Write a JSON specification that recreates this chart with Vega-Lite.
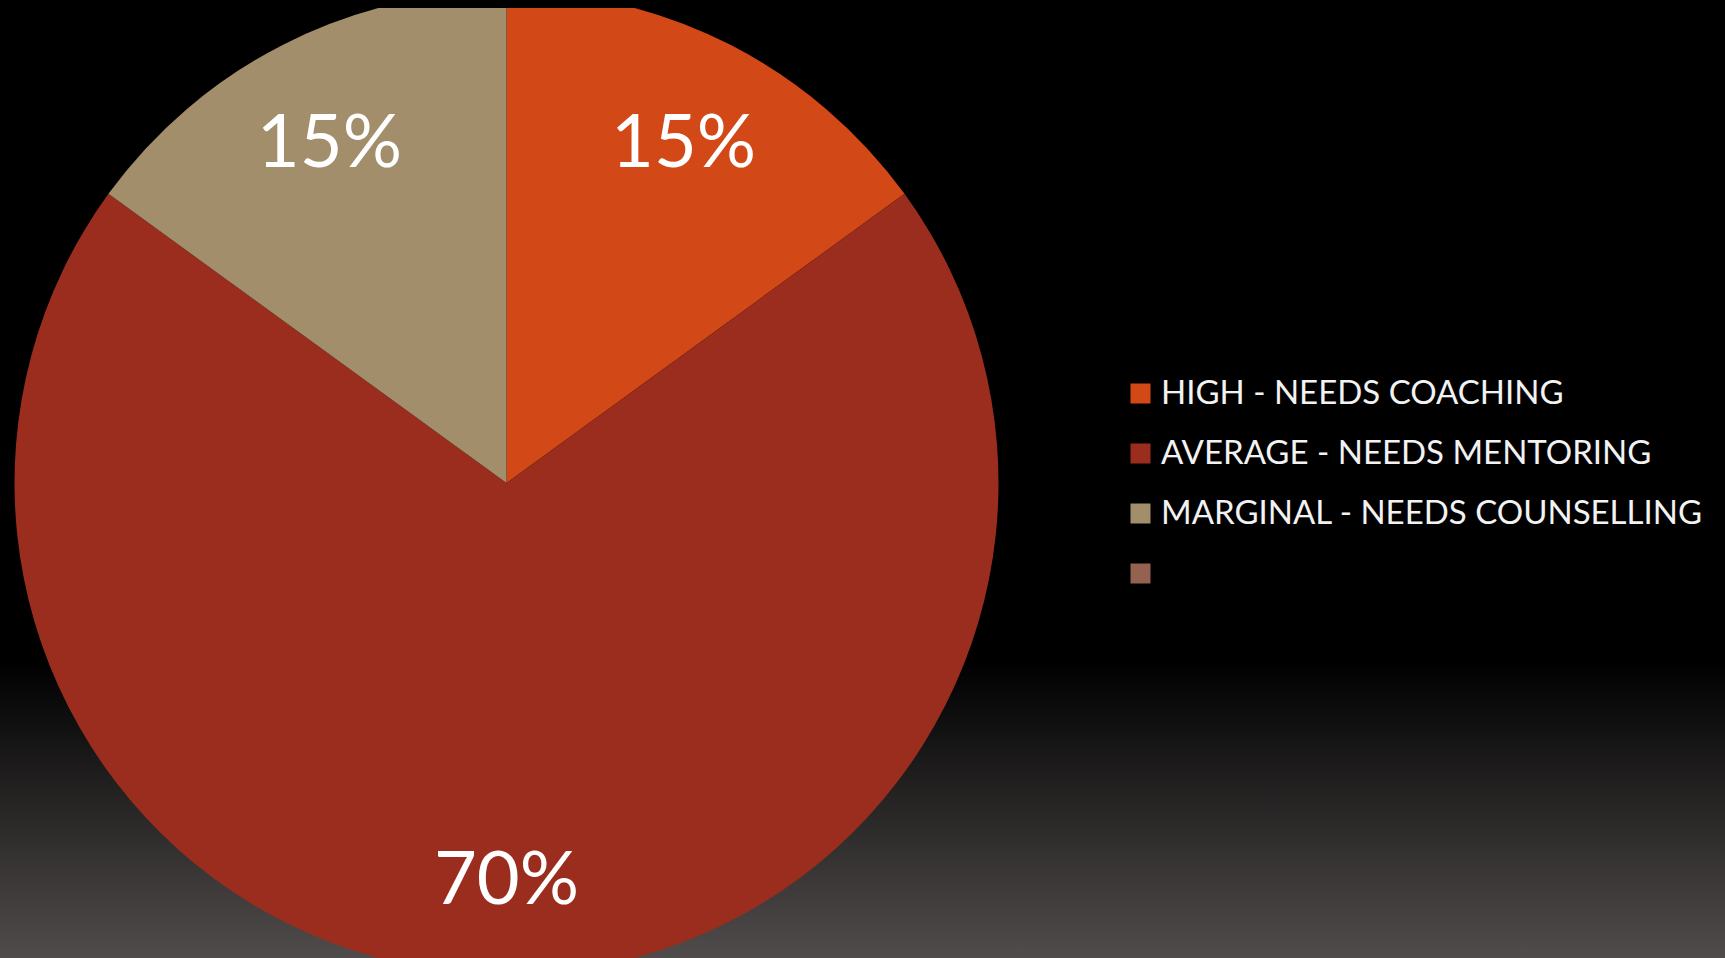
{
  "$schema": "https://vega.github.io/schema/vega-lite/v6.json",
  "autosize": {"type": "pad"},
  "padding": {"top": 8, "left": 0, "right": 0, "bottom": 0},
  "background": "#000000",
  "spacing": 0,
  "config": {
    "view": {"stroke": null},
    "concat": {"spacing": 0}
  },
  "datasets": {
    "slices": [
      {"level": "HIGH - NEEDS COACHING", "share": 15, "label": "15%", "rank": 1},
      {"level": "AVERAGE - NEEDS MENTORING", "share": 70, "label": "70%", "rank": 2},
      {"level": "MARGINAL - NEEDS COUNSELLING", "share": 15, "label": "15%", "rank": 3},
      {"level": "", "share": 0, "label": "", "rank": 4}
    ],
    "backdrop": [{"name": "background"}]
  },
  "hconcat": [
    {
      "width": 1013,
      "height": 950,
      "layer": [
        {
          "data": {"name": "backdrop"},
          "mark": {
            "type": "rect",
            "fill": {
              "gradient": "linear", "x1": 0, "y1": 0, "x2": 0, "y2": 1,
              "stops": [
                {"offset": 0, "color": "#000000"},
                {"offset": 0.686, "color": "#000000"},
                {"offset": 1, "color": "#504c4b"}
              ]
            },
            "stroke": null
          },
          "encoding": {}
        },
        {
          "data": {"name": "slices"},
          "mark": {"type": "arc", "outerRadius": 492, "stroke": null, "clip": true},
          "encoding": {
            "theta": {"field": "share", "type": "quantitative", "stack": true},
            "order": {"field": "rank", "type": "quantitative"},
            "color": {
              "field": "level",
              "type": "nominal",
              "sort": null,
              "scale": {
                "domain": ["HIGH - NEEDS COACHING", "AVERAGE - NEEDS MENTORING", "MARGINAL - NEEDS COUNSELLING", ""],
                "range": ["#D34817", "#9B2D1F", "#A28E6A", "#956251"]
              },
              "legend": {
                "title": null,
                "orient": "none",
                "legendX": 1124,
                "legendY": 369,
                "symbolType": "square",
                "symbolSize": 400,
                "symbolStrokeWidth": 0,
                "labelFont": "Lato",
                "labelFontSize": 33,
                "labelColor": "#f2f2f2",
                "labelOffset": 4,
                "rowPadding": 26,
                "padding": 0,
                "labelLimit": 0
              }
            }
          }
        },
        {
          "data": {"name": "slices"},
          "mark": {"type": "text", "radius": 390, "dy": 9, "fontSize": 74, "font": "Lato", "color": "#ffffff", "baseline": "middle", "align": "center"},
          "encoding": {
            "theta": {"field": "share", "type": "quantitative", "stack": true},
            "order": {"field": "rank", "type": "quantitative"},
            "detail": {"field": "level", "type": "nominal"},
            "text": {"field": "label", "type": "nominal"}
          }
        }
      ]
    },
    {
      "width": 712,
      "height": 950,
      "data": {"name": "backdrop"},
      "mark": {
        "type": "rect",
        "fill": {
          "gradient": "linear", "x1": 0, "y1": 0, "x2": 0, "y2": 1,
          "stops": [
            {"offset": 0, "color": "#000000"},
            {"offset": 0.686, "color": "#000000"},
            {"offset": 1, "color": "#504c4b"}
          ]
        },
        "stroke": null
      },
      "encoding": {}
    }
  ]
}
